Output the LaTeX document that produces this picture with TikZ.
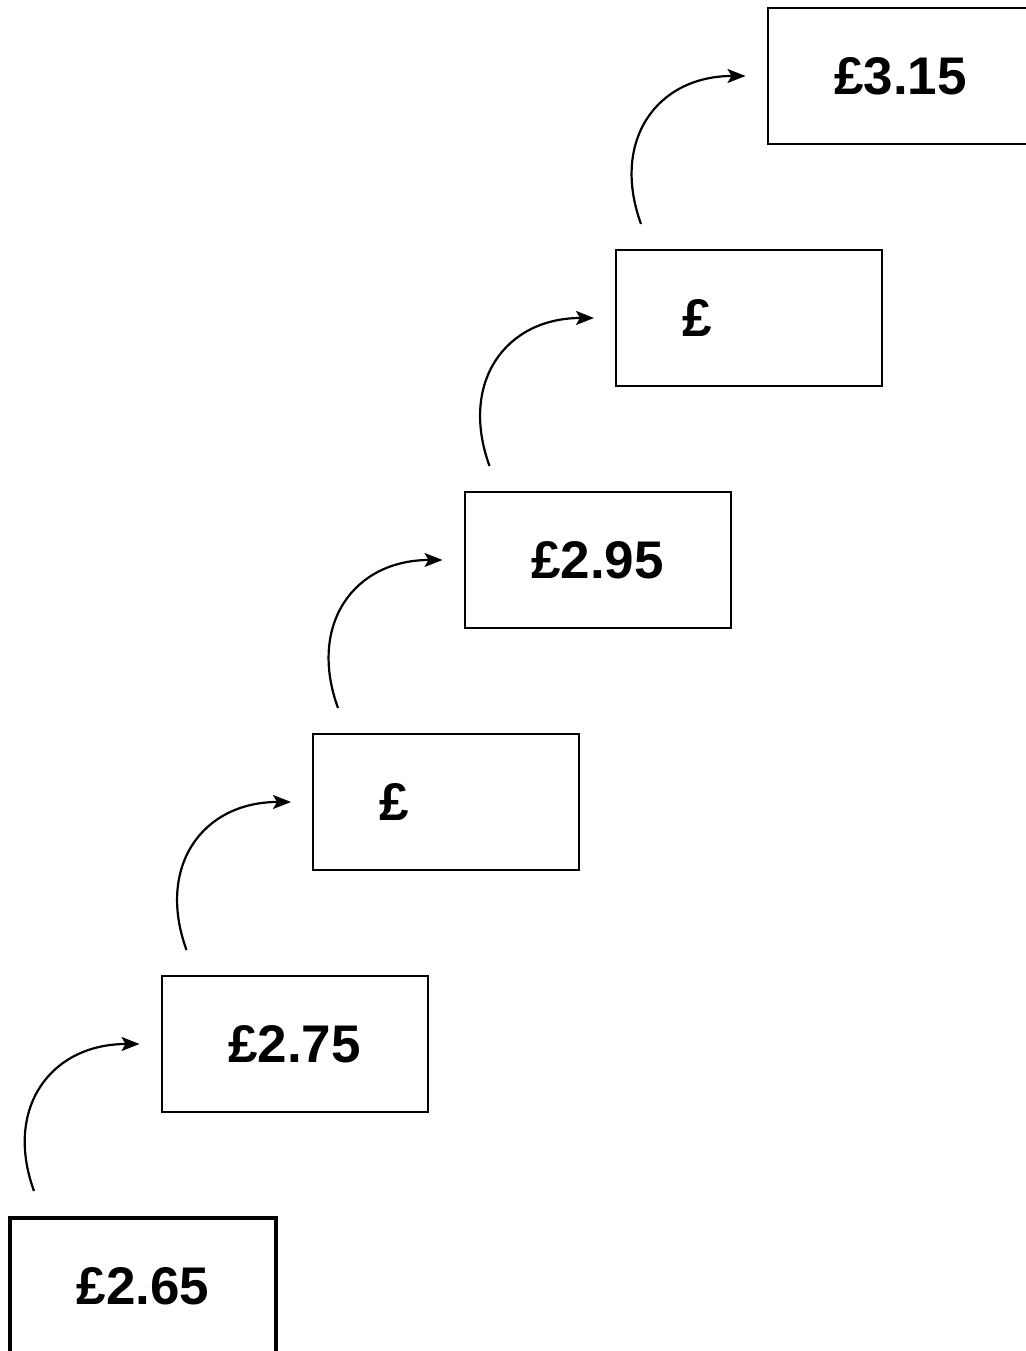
\documentclass[tikz,border=0pt]{standalone}
\usepackage{fontspec}
\setmainfont{Liberation Sans}
\usetikzlibrary{arrows.meta,calc}
\tikzstyle{pricebox} = [draw,line width=2pt,minimum width=266pt,minimum height=136pt,inner sep=0pt,font=\fontsize{53}{60}\selectfont\bfseries]
\tikzset{hop/.style={line width=2.2pt,out=110,in=180,looseness=1.25}}
\begin{document}
\begin{tikzpicture}[x=1pt,y=1pt]
  \useasboundingbox (0,0) rectangle (1025,1351);
  % Price boxes
  \node[pricebox,line width=4pt] (b0) at (143,65) {£2.65};
  \foreach \i/\lbl in {1/2.75,2/\phantom{2.85},3/2.95,4/\phantom{3.05},5/3.15} {
    \node[pricebox] (b\i) at ($(143,65)+(151.5*\i,242*\i)$) {£\lbl};
  }
  % Arrows between steps
  \foreach \i in {0,1,2,3,4} {
    \pgfmathtruncatemacro{\j}{\i+1}
    \draw[hop,-{Stealth[length=18pt,width=14pt,inset=4pt]}] ($(b\i.north west)+(26,25)$) to ($(b\j.west)+(-21,0)$);
  }
\end{tikzpicture}
\end{document}
